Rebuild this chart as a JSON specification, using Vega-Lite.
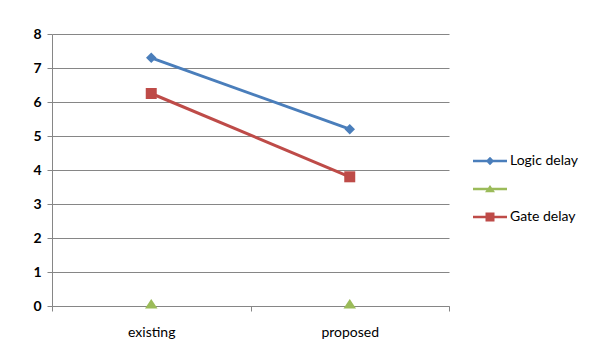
{
  "$schema": "https://vega.github.io/schema/vega-lite/v6.json",
  "width": 397,
  "height": 272,
  "autosize": {"type": "none"},
  "padding": {"left": 52, "top": 34, "right": 154, "bottom": 57},
  "background": "#ffffff",
  "config": {
    "view": {"stroke": null},
    "font": "Lato",
    "axis": {"labelFont": "Lato", "labelFontSize": 14, "labelColor": "#000000", "domainColor": "#868686", "tickColor": "#868686", "gridColor": "#868686", "gridOpacity": 1, "domainWidth": 1, "tickWidth": 1, "gridWidth": 1}
  },
  "data": {
    "values": [
      {"category": "existing", "series": "Logic delay", "value": 7.3},
      {"category": "proposed", "series": "Logic delay", "value": 5.2},
      {"category": "existing", "series": "", "value": 0},
      {"category": "proposed", "series": "", "value": 0},
      {"category": "existing", "series": "Gate delay", "value": 6.25},
      {"category": "proposed", "series": "Gate delay", "value": 3.8}
    ]
  },
  "encoding": {
    "x": {
      "field": "category", "type": "nominal", "sort": ["existing", "proposed"],
      "scale": {"type": "band", "paddingInner": 0, "paddingOuter": 0},
      "axis": {"title": null, "labelAngle": 0, "tickBand": "extent", "tickSize": 5, "labelPadding": 14, "grid": false, "domain": true}
    },
    "y": {
      "field": "value", "type": "quantitative",
      "scale": {"domain": [0, 8], "nice": false},
      "axis": {"title": null, "values": [0,1,2,3,4,5,6,7,8], "labelOverlap": false, "tickSize": 5, "labelPadding": 6, "grid": true, "labelFontWeight": "bold"}
    }
  },
  "layer": [
    {
      "mark": {"type": "line", "strokeWidth": 3},
      "encoding": {
        "color": {"field": "series", "type": "nominal",
          "scale": {"domain": ["Logic delay", "", "Gate delay"], "range": ["#4A7EBB", "#9BBB59", "#BE4B48"]},
          "legend": {
            "title": null, "orient": "none", "legendX": 428, "legendY": 117, "padding": 0,
            "rowPadding": 11, "labelOffset": 10, "labelFont": "Lato", "labelFontSize": 14, "labelColor": "#000000",
            "symbolSize": 400, "symbolOpacity": 1,
            "encode": {"symbols": {"update": {
              "shape": {"signal": "datum.value == 'Logic delay' ? 'M-1.7,-0.12H1.7V0.12H-1.7Z M0,-0.42L0.42,0L0,0.42L-0.42,0Z' : datum.value == 'Gate delay' ? 'M-1.7,-0.12H1.7V0.12H-1.7Z M-0.45,-0.45H0.45V0.45H-0.45Z' : 'M-1.7,-0.12H1.7V0.12H-1.7Z M0,-0.4L0.5,0.32H-0.5Z'"},
              "fill": {"signal": "datum.value == 'Logic delay' ? '#4A7EBB' : datum.value == 'Gate delay' ? '#BE4B48' : '#9BBB59'"},
              "size": {"value": 400},
              "strokeWidth": {"value": 0},
              "opacity": {"value": 1}
            }}}
          }
        },
        "opacity": {"condition": {"test": "datum.series === ''", "value": 0}, "value": 1}
      }
    },
    {
      "transform": [{"filter": "datum.series === 'Logic delay'"}],
      "mark": {"type": "point", "filled": true, "opacity": 1, "size": 100, "strokeWidth": 0, "color": "#4A7EBB", "shape": "M0,-1.05L1.05,0L0,1.05L-1.05,0Z"}
    },
    {
      "transform": [{"filter": "datum.series === ''"}],
      "mark": {"type": "point", "filled": true, "opacity": 1, "size": 100, "strokeWidth": 0, "color": "#9BBB59", "shape": "M0,-1.4L1.25,0.5H-1.25Z"}
    },
    {
      "transform": [{"filter": "datum.series === 'Gate delay'"}],
      "mark": {"type": "point", "filled": true, "opacity": 1, "size": 100, "strokeWidth": 0, "color": "#BE4B48", "shape": "M-1.1,-1.1H1.1V1.1H-1.1Z"}
    }
  ]
}
